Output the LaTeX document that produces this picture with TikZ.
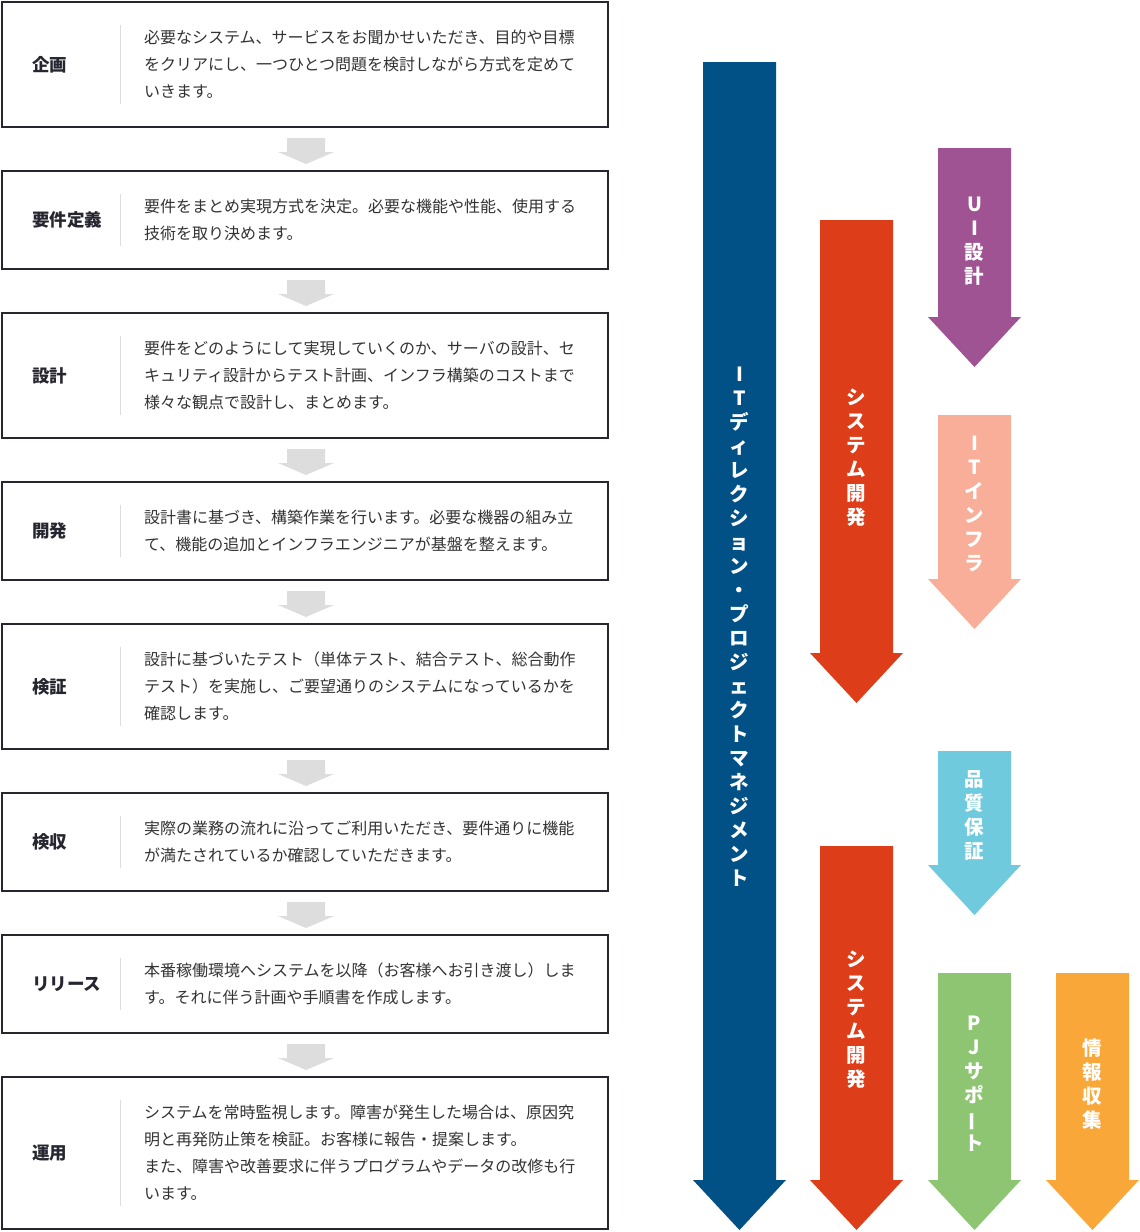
\documentclass[tikz,border=0pt]{standalone}
\usepackage{fontspec}
\setmainfont{Noto Sans CJK JP}
\usetikzlibrary{calc,positioning}
\definecolor{boxline}{RGB}{38,38,48}
\definecolor{bodytext}{RGB}{51,51,51}
\definecolor{sepgray}{RGB}{220,220,220}
\definecolor{flowgray}{RGB}{221,221,221}
\definecolor{pmblue}{RGB}{1,81,134}
\definecolor{devred}{RGB}{221,61,24}
\definecolor{uipurple}{RGB}{160,83,147}
\definecolor{infrasalmon}{RGB}{248,174,152}
\definecolor{qacyan}{RGB}{110,202,220}
\definecolor{pjgreen}{RGB}{141,197,114}
\definecolor{infoorange}{RGB}{250,167,58}
\tikzset{
  stepbox/.style={draw=boxline, line width=2pt, fill=white, minimum width=606pt, inner sep=0pt},
  steplabel/.style={anchor=west, inner sep=0pt, text=boxline, font=\bfseries\fontsize{17.5}{20}\selectfont},
  stepbody/.style={anchor=west, align=left, inner xsep=0pt, inner ysep=5pt, text=bodytext, font=\fontsize{16}{27}\selectfont},
  sepline/.style={draw=sepgray, line width=1pt},
  tate/.style={align=center, inner sep=0pt, text=white, font=\bfseries\fontsize{19.5}{24}\selectfont}
}
% gray arrow under a step box
\newcommand{\flowarrow}[1]{%
  \fill[flowgray] ($(#1.south)+(-18,10)$) -- ++(38,0) -- ++(0,14) -- ++(9,0)
    -- ($(#1.south)+(1,36)$) -- ($(#1.south)+(-27,24)$) -- ++(9,0) -- cycle;}
% big coloured arrow: colour, left x, top y, tip y
\newcommand{\bigarrow}[4]{%
  \fill[#1] (#2,#3) -- ++(73,0) -- (#2+73,#4-50) -- ++(10,0) -- (#2+36.5,#4)
    -- (#2-10,#4-50) -- ++(10,0) -- cycle;}
\newcommand{\tatebar}{\rotatebox[origin=c]{90}{ー}}

\begin{document}
\begin{tikzpicture}[x=1pt, y=-1pt]
\useasboundingbox (0,0) rectangle (1140,1232);
% steps
\node[stepbox, minimum height=125pt] (s1) at (305,64.5) {};
\node[stepbox, minimum height=98pt] (s2) at (305,220) {};
\node[stepbox, minimum height=125pt] (s3) at (305,375.5) {};
\node[stepbox, minimum height=98pt] (s4) at (305,531) {};
\node[stepbox, minimum height=125pt] (s5) at (305,686.5) {};
\node[stepbox, minimum height=98pt] (s6) at (305,842) {};
\node[stepbox, minimum height=98pt] (s7) at (305,984) {};
\node[stepbox, minimum height=152pt] (s8) at (305,1153) {};
\foreach \s in {s1,s2,s3,s4,s5,s6,s7} {\flowarrow{\s}}

\node[steplabel] (l1) at ([xshift=31pt]s1.west) {企画};
\node[stepbody] (b1) at ([xshift=143pt]s1.west) {必要なシステム、サービスをお聞かせいただき、目的や目標\\をクリアにし、一つひとつ問題を検討しながら方式を定めて\\いきます。};
\node[steplabel] (l2) at ([xshift=31pt]s2.west) {要件定義};
\node[stepbody] (b2) at ([xshift=143pt]s2.west) {要件をまとめ実現方式を決定。必要な機能や性能、使用する\\技術を取り決めます。};
\node[steplabel] (l3) at ([xshift=31pt]s3.west) {設計};
\node[stepbody] (b3) at ([xshift=143pt]s3.west) {要件をどのようにして実現していくのか、サーバの設計、セ\\キュリティ設計からテスト計画、インフラ構築のコストまで\\様々な観点で設計し、まとめます。};
\node[steplabel] (l4) at ([xshift=31pt]s4.west) {開発};
\node[stepbody] (b4) at ([xshift=143pt]s4.west) {設計書に基づき、構築作業を行います。必要な機器の組み立\\て、機能の追加とインフラエンジニアが基盤を整えます。};
\node[steplabel] (l5) at ([xshift=31pt]s5.west) {検証};
\node[stepbody] (b5) at ([xshift=143pt]s5.west) {設計に基づいたテスト（単体テスト、結合テスト、総合動作\\テスト）を実施し、ご要望通りのシステムになっているかを\\確認します。};
\node[steplabel] (l6) at ([xshift=31pt]s6.west) {検収};
\node[stepbody] (b6) at ([xshift=143pt]s6.west) {実際の業務の流れに沿ってご利用いただき、要件通りに機能\\が満たされているか確認していただきます。};
\node[steplabel] (l7) at ([xshift=31pt]s7.west) {リリース};
\node[stepbody] (b7) at ([xshift=143pt]s7.west) {本番稼働環境へシステムを以降（お客様へお引き渡し）しま\\す。それに伴う計画や手順書を作成します。};
\node[steplabel] (l8) at ([xshift=31pt]s8.west) {運用};
\node[stepbody] (b8) at ([xshift=143pt]s8.west) {システムを常時監視します。障害が発生した場合は、原因究\\明と再発防止策を検証。お客様に報告・提案します。\\また、障害や改善要求に伴うプログラムやデータの改修も行\\います。};
\foreach \b in {b1,b2,b3,b4,b5,b6,b7,b8}
  {\draw[sepline] ([xshift=-24pt]\b.north west) -- ([xshift=-24pt]\b.south west);}

% roles
\bigarrow{pmblue}{703}{62}{1230}
\bigarrow{devred}{820}{220}{703}
\bigarrow{uipurple}{938}{148}{367}
\bigarrow{infrasalmon}{938}{415}{629}
\bigarrow{qacyan}{938}{751}{915}
\bigarrow{devred}{820}{846}{1230}
\bigarrow{pjgreen}{938}{973}{1230}
\bigarrow{infoorange}{1056}{973}{1230}
\node[tate] (pm) at (739.5,627) {I\\T\\デ\\ィ\\レ\\ク\\シ\\ョ\\ン\\・\\プ\\ロ\\ジ\\ェ\\ク\\ト\\マ\\ネ\\ジ\\メ\\ン\\ト};
\node[tate] (dev1) at (856.5,458) {シ\\ス\\テ\\ム\\開\\発};
\node[tate] (ui) at (974.5,241) {U\\I\\設\\計};
\node[tate] (infra) at (974.5,504) {I\\T\\イ\\ン\\フ\\ラ};
\node[tate] (qa) at (974.5,815) {品\\質\\保\\証};
\node[tate] (dev2) at (856.5,1020) {シ\\ス\\テ\\ム\\開\\発};
\node[tate] (pj) at (974.5,1084) {P\\J\\サ\\ポ\\\tatebar\\ト};
\node[tate] (info) at (1092.5,1084) {情\\報\\収\\集};
\end{tikzpicture}
\end{document}
